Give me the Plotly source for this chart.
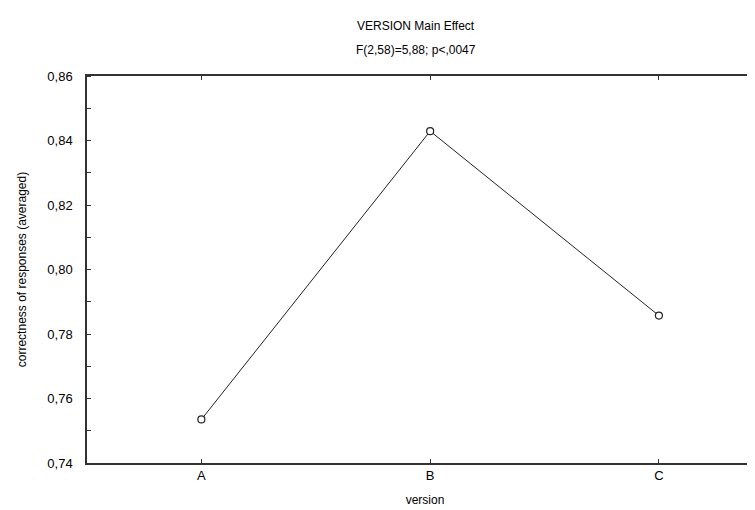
import plotly.graph_objects as go

categories = ["A", "B", "C"]
values = [0.7535, 0.8429, 0.7857]
y_ticks = [0.74, 0.76, 0.78, 0.80, 0.82, 0.84, 0.86]

FONT = "Liberation Sans, Arial, sans-serif"

L, R, T, B = 79, 0, 68, 55
W, H = 755, 510
pw, ph = W - L - R, H - T - B


def px_to_paper(xp, yp):
    return (xp - L) / pw, (H - B - yp) / ph


fig = go.Figure()
fig.add_trace(go.Scatter(
    x=categories, y=values, mode="lines+markers",
    line=dict(color="#222222", width=1),
    marker=dict(symbol="circle", size=7, color="white",
                line=dict(color="#222222", width=1.2)),
    showlegend=False, cliponaxis=False,
))

t1x, t1y = px_to_paper(408, 18)
t2x, t2y = px_to_paper(408, 42)

fig.update_layout(
    width=W, height=H,
    margin=dict(l=L, r=R, t=T, b=B, autoexpand=False),
    paper_bgcolor="white", plot_bgcolor="white",
    separators=", ",
    font=dict(family=FONT, size=13, color="black"),
    annotations=[
        dict(text="VERSION Main Effect", x=t1x, y=t1y, xref="paper", yref="paper",
             xanchor="center", yanchor="middle", showarrow=False, font=dict(size=12)),
        dict(text="F(2,58)=5,88; p<,0047", x=t2x, y=t2y, xref="paper", yref="paper",
             xanchor="center", yanchor="middle", showarrow=False, font=dict(size=12)),
    ],
)

fig.update_xaxes(
    type="category", range=[-0.5, 2.455],
    showline=True, linecolor="#333333", linewidth=1.5, mirror="ticks",
    ticks="inside", ticklen=4, tickcolor="#333333", tickwidth=1,
    showgrid=False, zeroline=False, automargin=False,
    tickfont=dict(size=13),
    title=dict(text="version", font=dict(size=12), standoff=13),
)
fig.update_yaxes(
    range=[0.74, 0.86], tickvals=y_ticks, tickformat=".2f",
    showline=True, linecolor="#333333", linewidth=1.5, mirror=False,
    ticks="", showgrid=False, zeroline=False, automargin=False,
    tickfont=dict(size=13),
    minor=dict(dtick=0.01, ticks="inside", ticklen=4, tickcolor="#333333", showgrid=False),
    ticklabelstandoff=10,
    title=dict(text="correctness of responses (averaged)", font=dict(size=12), standoff=18),
)

fig.write_html("out.html")
